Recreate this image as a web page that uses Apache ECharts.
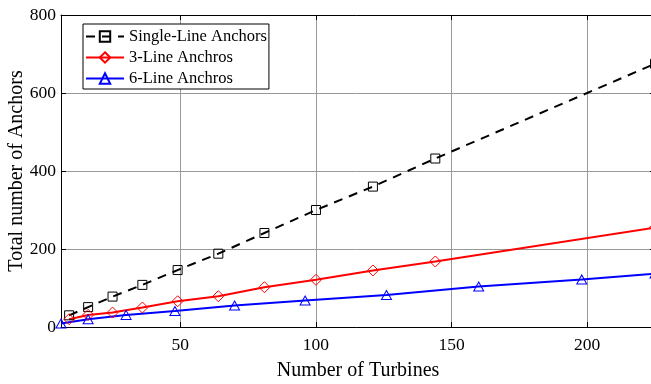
<!DOCTYPE html>
<html>
<head>
<meta charset="utf-8">
<script src="https://cdn.jsdelivr.net/npm/echarts@6/dist/echarts.min.js"></script>
<style>
  html, body { margin: 0; padding: 0; background: #fff; }
  #chart { width: 651px; height: 384px; }
</style>
</head>
<body>
<div id="chart"></div>
<script>
// Turbine counts for square layouts (single- and 3-line) and hexagonal layouts (6-line)
const turbinesSquare = [9, 16, 25, 36, 49, 64, 81, 100, 121, 144, 225];
const singleLine = [30, 51, 78, 108, 146, 188, 241, 300, 360, 432, 675];
const threeLine = [20, 31, 37, 50, 66, 79, 102, 121, 145, 168, 255];
const turbinesHex = [6, 16, 30, 48, 70, 96, 126, 160, 198, 225];
const sixLine = [9, 20, 31, 41, 55, 68, 82, 104, 122, 137];
const xTicks = [50, 100, 150, 200];
const seriesNames = ['Single-Line Anchors', '3-Line Anchros', '6-Line Anchros'];

const FONT = "'Liberation Serif', 'Times New Roman', serif";
const pairs = (xs, ys) => xs.map((x, i) => [x, ys[i]]);

const chart = echarts.init(document.getElementById('chart'), null, { renderer: 'canvas' });

const hollow = (c) => ({ color: 'rgba(255,255,255,0)', borderColor: c, borderWidth: 1 });

const xBase = {
  type: 'value', min: 6, max: 225,
  axisLine: { show: true, onZero: false, lineStyle: { color: '#000', width: 1 } },
  axisTick: { show: true, inside: true, length: 5, customValues: xTicks, lineStyle: { color: '#000' } },
};
const yBase = {
  type: 'value', min: 0, max: 800, interval: 200,
  axisLine: { show: true, onZero: false, lineStyle: { color: '#000', width: 1 } },
  axisTick: { show: true, inside: true, length: 5, lineStyle: { color: '#000' } },
};

chart.setOption({
  animation: false,
  backgroundColor: '#fff',
  grid: { left: 61, top: 15, bottom: 57, right: -4, containLabel: false, outerBoundsMode: 'none' },
  xAxis: [
    Object.assign({}, xBase, {
      position: 'bottom',
      name: 'Number of Turbines', nameLocation: 'middle', nameGap: 34, nameMoveOverlap: false,
      nameTextStyle: { fontFamily: FONT, fontSize: 20, color: '#000' },
      axisLabel: { customValues: xTicks, fontFamily: FONT, fontSize: 17.5, color: '#000', margin: 9 },
      splitLine: { show: true, lineStyle: { color: '#999', width: 1 } },
    }),
    Object.assign({}, xBase, {
      position: 'top',
      axisLabel: { show: false },
      splitLine: { show: false },
    }),
  ],
  yAxis: [
    Object.assign({}, yBase, {
      position: 'left',
      name: 'Total number of Anchors', nameLocation: 'middle', nameGap: 34, nameMoveOverlap: false,
      nameTextStyle: { fontFamily: FONT, fontSize: 20, color: '#000' },
      axisLabel: { fontFamily: FONT, fontSize: 17.5, color: '#000', margin: 5 },
      splitLine: { show: true, lineStyle: { color: '#999', width: 1 } },
    }),
    Object.assign({}, yBase, {
      position: 'right',
      axisLabel: { show: false },
      splitLine: { show: false },
    }),
  ],
  legend: {
    orient: 'vertical', left: 83, top: 24,
    data: seriesNames,
    itemWidth: 38, itemHeight: 13, itemGap: 0,
    padding: [2, 2, 0, 2],
    borderColor: '#000', borderWidth: 1, backgroundColor: '#fff',
    textStyle: { fontFamily: FONT, fontSize: 16.5, color: '#000', lineHeight: 21 },
  },
  series: [
    {
      name: seriesNames[0], type: 'line', xAxisIndex: 0, yAxisIndex: 0,
      data: pairs(turbinesSquare, singleLine),
      symbol: 'rect', symbolSize: 9,
      lineStyle: { color: '#000', width: 2, type: [9, 7] },
      itemStyle: hollow('#000'),
    },
    {
      name: seriesNames[1], type: 'line', xAxisIndex: 0, yAxisIndex: 0,
      data: pairs(turbinesSquare, threeLine),
      symbol: 'diamond', symbolSize: 11,
      lineStyle: { color: '#ff0000', width: 2 },
      itemStyle: hollow('#ff0000'),
    },
    {
      name: seriesNames[2], type: 'line', xAxisIndex: 0, yAxisIndex: 0,
      data: pairs(turbinesHex, sixLine),
      symbol: 'triangle', symbolSize: [10, 9],
      lineStyle: { color: '#0000ff', width: 2 },
      itemStyle: hollow('#0000ff'),
    },
  ],
});
</script>
</body>
</html>
